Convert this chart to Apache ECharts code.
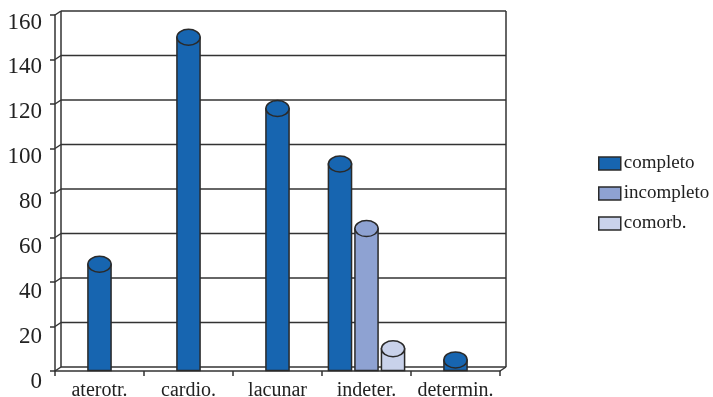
<!DOCTYPE html>
<html>
<head>
<meta charset="utf-8">
<script src="https://cdn.jsdelivr.net/npm/echarts@6/dist/echarts.min.js"></script>
<style>
  html, body { margin: 0; padding: 0; background: #ffffff; }
  #chart { width: 713px; height: 397px; }
</style>
</head>
<body>
<div id="chart"></div>
<script>
// Stroke subtypes by category
const categories = ['aterotr.', 'cardio.', 'lacunar', 'indeter.', 'determin.'];
const seriesNames = ['completo', 'incompleto', 'comorb.'];
const completo = [48, 150, 118, 93, 5];
const incompleto = [0, 0, 0, 64, 0];
const comorb = [0, 0, 0, 10, 0];
const yTicks = [0, 20, 40, 60, 80, 100, 120, 140, 160];

const allValues = [completo, incompleto, comorb];
const colors = ['#1765b0', '#8ea2d2', '#c9d2eb'];
const edge = '#2a2a2a';
const font = '"Liberation Serif", "Times New Roman", serif';

// depth offset of the back wall
const DX = 6, DY = -4;

function cylinder(seriesIdx) {
  return function (params, api) {
    const ci = api.value(0);
    const v = api.value(1);
    if (!v) return null;
    const base = api.coord([ci, 0]);
    const top = api.coord([ci, v]);
    const band = api.size([1, 0])[0];
    // bars present in this category are grouped around its centre
    const present = [];
    allValues.forEach((arr, i) => { if (arr[ci] > 0) present.push(i); });
    const k = present.indexOf(seriesIdx);
    const n = present.length;
    const w = band * 0.26;
    const pitch = band * 0.298;
    const cx = base[0] + (k - (n - 1) / 2) * pitch;
    const ry = 8;
    return {
      type: 'group',
      children: [
        {
          type: 'rect',
          shape: { x: cx - w / 2, y: top[1], width: w, height: base[1] - top[1] - 0.5 },
          style: { fill: colors[seriesIdx], stroke: edge, lineWidth: 1.5 }
        },
        {
          type: 'ellipse',
          shape: { cx: cx, cy: top[1], rx: w / 2, ry: ry },
          style: { fill: colors[seriesIdx], stroke: edge, lineWidth: 1.5 }
        }
      ]
    };
  };
}

function frame(params, api) {
  const cs = params.coordSys;
  const v = api.value(1);
  const y = api.coord([0, v])[1];
  const left = cs.x, right = cs.x + cs.width;
  const st = { stroke: '#333333', lineWidth: 1.5 };
  const children = [
    { type: 'line', shape: { x1: left + DX, y1: y + DY, x2: right + DX, y2: y + DY }, style: st },
    { type: 'line', shape: { x1: left, y1: y, x2: left + DX, y2: y + DY }, style: st }
  ];
  if (v === yTicks[0]) {
    const yTop = api.coord([0, yTicks[yTicks.length - 1]])[1];
    children.push(
      { type: 'line', shape: { x1: right, y1: y, x2: right + DX, y2: y + DY }, style: st },
      { type: 'line', shape: { x1: left + DX, y1: yTop + DY, x2: left + DX, y2: y + DY }, style: st },
      { type: 'line', shape: { x1: right + DX, y1: yTop + DY, x2: right + DX, y2: y + DY }, style: st }
    );
  }
  return { type: 'group', children: children };
}

const chart = echarts.init(document.getElementById('chart'), null, { renderer: 'canvas' });

const series = [{
  name: 'frame',
  type: 'custom',
  renderItem: frame,
  data: yTicks.map(t => [0, t]),
  z: 1,
  silent: true,
  clip: false
}];
allValues.forEach((arr, i) => {
  series.push({
    name: seriesNames[i],
    type: 'custom',
    renderItem: cylinder(i),
    data: arr.map((val, ci) => [ci, val]),
    z: 3 + i,
    clip: false
  });
});

const yMin = yTicks[0], yMax = yTicks[yTicks.length - 1], yStep = yTicks[1] - yTicks[0];

chart.setOption({
  animation: false,
  backgroundColor: '#ffffff',
  grid: [
    // plotting area
    { left: 55, right: 213, top: 15, bottom: 26, outerBoundsMode: 'none', containLabel: false },
    // value labels, spaced a little wider than the ticks
    { left: 55, right: 213, top: 22.5, bottom: 15.5, outerBoundsMode: 'none', containLabel: false }
  ],
  legend: {
    orient: 'vertical',
    left: 593,
    top: 149,
    icon: 'rect',
    itemWidth: 22,
    itemHeight: 13,
    itemGap: 11,
    textStyle: { fontFamily: font, fontSize: 19, color: '#222222', lineHeight: 19, padding: [0, 0, 0, -2] },
    data: seriesNames.map((nm, i) => ({
      name: nm,
      itemStyle: { color: colors[i], borderColor: edge, borderWidth: 1.5 }
    }))
  },
  xAxis: [
    {
      type: 'category',
      gridIndex: 0,
      data: categories,
      boundaryGap: true,
      axisLine: { show: true, lineStyle: { color: '#333333', width: 1.5 } },
      axisTick: { show: true, length: 5, lineStyle: { color: '#333333', width: 1.5 } },
      axisLabel: { fontFamily: font, fontSize: 20, color: '#222222', margin: 10, interval: 0 },
      splitLine: { show: false }
    },
    {
      type: 'category',
      gridIndex: 1,
      data: categories,
      show: false
    }
  ],
  yAxis: [
    {
      type: 'value',
      gridIndex: 0,
      min: yMin,
      max: yMax,
      interval: yStep,
      axisLine: { show: true, lineStyle: { color: '#333333', width: 1.5 } },
      axisTick: { show: true, length: 5, lineStyle: { color: '#333333', width: 1.5 } },
      axisLabel: { show: false },
      splitLine: { show: false }
    },
    {
      type: 'value',
      gridIndex: 1,
      min: yMin,
      max: yMax,
      interval: yStep,
      axisLine: { show: false },
      axisTick: { show: false },
      axisLabel: { fontFamily: font, fontSize: 23, color: '#222222', margin: 13, verticalAlign: 'middle' },
      splitLine: { show: false }
    }
  ],
  series: series
});
</script>
</body>
</html>
